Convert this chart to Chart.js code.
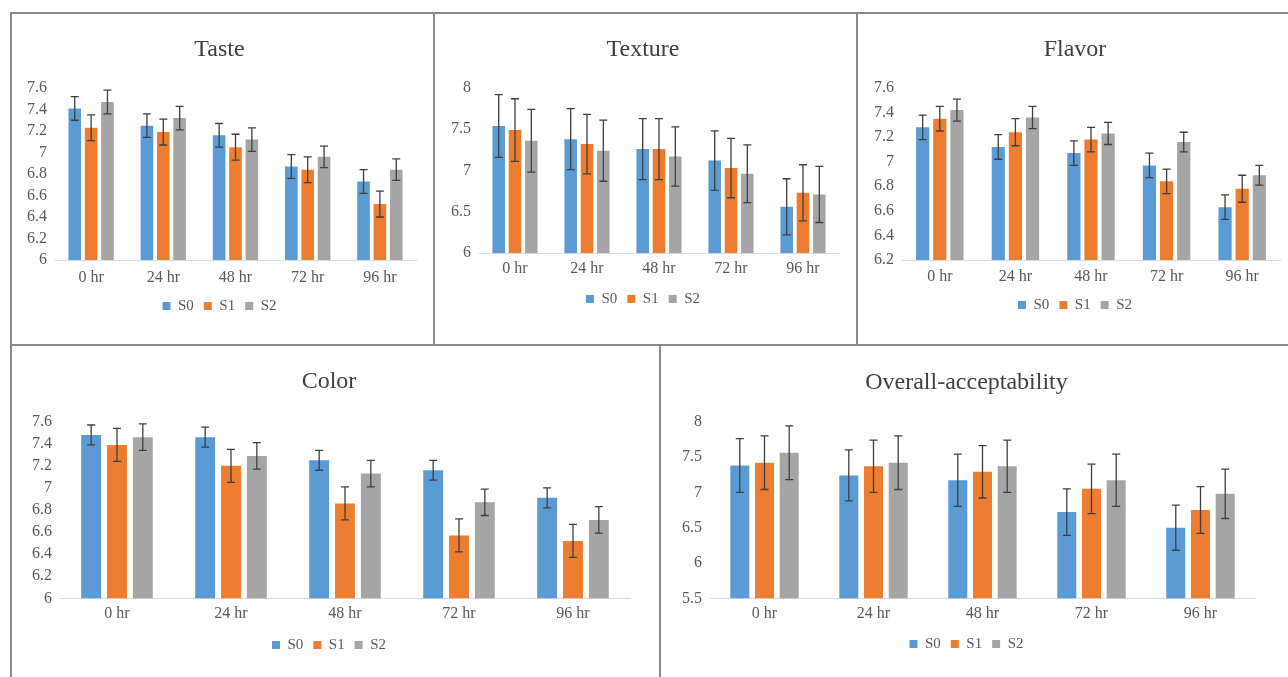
<!DOCTYPE html>
<html>
<head>
<meta charset="utf-8">
<script src="https://cdn.jsdelivr.net/npm/chart.js@4.4.1/dist/chart.umd.min.js"></script>
<style>
  body { margin: 0; background: #fff; width: 1288px; height: 677px; overflow: hidden; position: relative; }
  canvas { position: absolute; }
  .line { position: absolute; background: #8a8a8a; }
</style>
</head>
<body>
<div class="line" style="left:10px;top:12px;width:1278px;height:2px"></div>
<div class="line" style="left:10px;top:12px;width:2px;height:665px"></div>
<div class="line" style="left:433px;top:12px;width:2px;height:333px"></div>
<div class="line" style="left:856px;top:12px;width:2px;height:333px"></div>
<div class="line" style="left:10px;top:344px;width:1278px;height:2px"></div>
<div class="line" style="left:659px;top:345px;width:2px;height:332px"></div>

<canvas id="taste" width="421" height="330" style="left:12px;top:14px"></canvas>
<canvas id="texture" width="421" height="330" style="left:435px;top:14px"></canvas>
<canvas id="flavor" width="430" height="330" style="left:858px;top:14px"></canvas>
<canvas id="color" width="647" height="331" style="left:12px;top:346px"></canvas>
<canvas id="overall" width="627" height="331" style="left:661px;top:346px"></canvas>

<script>
const hours = ['0 hr', '24 hr', '48 hr', '72 hr', '96 hr'];
const seriesNames = ['S0', 'S1', 'S2'];

// means per series (S0, S1, S2) and their error bars
const tasteMeans = [[7.41, 7.25, 7.16, 6.87, 6.73], [7.23, 7.19, 7.05, 6.84, 6.52], [7.47, 7.32, 7.12, 6.96, 6.84]];
const tasteErrs = [[0.11, 0.11, 0.11, 0.11, 0.11], [0.12, 0.12, 0.12, 0.12, 0.12], [0.11, 0.11, 0.11, 0.10, 0.10]];
const textureMeans = [[7.54, 7.38, 7.26, 7.12, 6.56], [7.49, 7.32, 7.26, 7.03, 6.73], [7.36, 7.24, 7.17, 6.96, 6.71]];
const textureErrs = [[0.38, 0.37, 0.37, 0.36, 0.34], [0.38, 0.36, 0.37, 0.36, 0.34], [0.38, 0.37, 0.36, 0.35, 0.34]];
const flavorMeans = [[7.28, 7.12, 7.07, 6.97, 6.63], [7.35, 7.24, 7.18, 6.84, 6.78], [7.42, 7.36, 7.23, 7.16, 6.89]];
const flavorErrs = [[0.10, 0.10, 0.10, 0.10, 0.10], [0.10, 0.11, 0.10, 0.10, 0.11], [0.09, 0.09, 0.09, 0.08, 0.08]];
const colorMeans = [[7.48, 7.46, 7.25, 7.16, 6.91], [7.39, 7.20, 6.86, 6.57, 6.52], [7.46, 7.29, 7.13, 6.87, 6.71]];
const colorErrs = [[0.09, 0.09, 0.09, 0.09, 0.09], [0.15, 0.15, 0.15, 0.15, 0.15], [0.12, 0.12, 0.12, 0.12, 0.12]];
const overallMeans = [[7.38, 7.24, 7.17, 6.72, 6.50], [7.42, 7.37, 7.29, 7.05, 6.75], [7.56, 7.42, 7.37, 7.17, 6.98]];
const overallErrs = [[0.38, 0.36, 0.37, 0.33, 0.32], [0.38, 0.37, 0.37, 0.35, 0.33], [0.38, 0.38, 0.37, 0.37, 0.35]];

const tasteTicks = [6, 6.2, 6.4, 6.6, 6.8, 7, 7.2, 7.4, 7.6];
const textureTicks = [6, 6.5, 7, 7.5, 8];
const flavorTicks = [6.2, 6.4, 6.6, 6.8, 7, 7.2, 7.4, 7.6];
const colorTicks = [6, 6.2, 6.4, 6.6, 6.8, 7, 7.2, 7.4, 7.6];
const overallTicks = [5.5, 6, 6.5, 7, 7.5, 8];

const barColors = ['#5b9bd5', '#ed7d31', '#a5a5a5'];

Chart.defaults.font.family = "'Liberation Serif', 'Times New Roman', serif";
Chart.defaults.color = '#595959';

// draws the error bars from each dataset's "errors" list
const errorBars = {
  id: 'errorBars',
  afterDatasetsDraw(chart) {
    const ctx = chart.ctx;
    const yScale = chart.scales.y;
    ctx.save();
    ctx.strokeStyle = '#3f3f3f';
    ctx.lineWidth = 1.3;
    chart.data.datasets.forEach((ds, i) => {
      chart.getDatasetMeta(i).data.forEach((bar, j) => {
        const v = ds.data[j], e = ds.errors[j];
        const top = yScale.getPixelForValue(v + e);
        const bot = yScale.getPixelForValue(v - e);
        ctx.beginPath();
        ctx.moveTo(bar.x, top); ctx.lineTo(bar.x, bot);
        ctx.moveTo(bar.x - 4, top); ctx.lineTo(bar.x + 4, top);
        ctx.moveTo(bar.x - 4, bot); ctx.lineTo(bar.x + 4, bot);
        ctx.stroke();
      });
    });
    ctx.restore();
  }
};

// g: page geometry of the panel -> [left, top, plotLeft, plotRight, plotTop, plotBottom, titleY, labelY, legendY]
function makeChart(id, title, means, errs, ticks, g) {
  const canvas = document.getElementById(id);
  const W = canvas.width, H = canvas.height;
  const [left, top, pl, pr, pt, pb, ty, ly, gy] = g;
  const yw = 32;
  const titleSize = 24, half = titleSize * 1.2 / 2;
  const tc = ty - top, at = pt - top, ab = pb - top, lc = gy - top;
  const legendH = 35;

  new Chart(canvas, {
    type: 'bar',
    data: {
      labels: hours,
      datasets: seriesNames.map((name, i) => ({
        label: name,
        data: means[i],
        errors: errs[i],
        backgroundColor: barColors[i],
        borderWidth: 0,
        barPercentage: 0.77,
        categoryPercentage: 0.68
      }))
    },
    options: {
      responsive: false,
      animation: false,
      devicePixelRatio: 1,
      layout: {
        padding: {
          top: 0,
          left: pl - left - yw,
          right: left + W - pr,
          bottom: H - (lc - 17.5 + legendH)
        }
      },
      plugins: {
        title: {
          display: true,
          text: title,
          color: '#404040',
          font: { size: titleSize, weight: 'normal' },
          padding: { top: tc - half, bottom: at - tc - half }
        },
        legend: {
          position: 'bottom',
          labels: { boxWidth: 8, boxHeight: 8, padding: 10, font: { size: 15 } }
        },
        tooltip: { enabled: false }
      },
      scales: {
        x: {
          grid: { display: false, drawTicks: false },
          border: { display: true, color: '#d9d9d9', width: 1 },
          ticks: { font: { size: 16 }, padding: (ly - top) - ab - 9, maxRotation: 0, autoSkip: false },
          afterFit: s => { s.height = lc - ab - 17.5; }
        },
        y: {
          min: ticks[0],
          max: ticks[ticks.length - 1],
          grid: { display: false, drawTicks: false },
          border: { display: false },
          afterBuildTicks: s => { s.ticks = ticks.map(v => ({ value: v })); },
          afterFit: s => { s.width = yw; },
          ticks: {
            font: { size: 16 },
            padding: 8,
            autoSkip: false,
            callback: v => String(Number(v.toFixed(2)))
          }
        }
      }
    },
    plugins: [errorBars]
  });
}

makeChart('taste', 'Taste', tasteMeans, tasteErrs, tasteTicks, [12, 14, 55, 416, 88, 260, 50, 277, 306]);
makeChart('texture', 'Texture', textureMeans, textureErrs, textureTicks, [435, 14, 479, 839, 88, 253, 50, 268, 299]);
makeChart('flavor', 'Flavor', flavorMeans, flavorErrs, flavorTicks, [858, 14, 902, 1280, 88, 260, 50, 276, 305]);
makeChart('color', 'Color', colorMeans, colorErrs, colorTicks, [12, 346, 60, 630, 421.7, 598.3, 382, 613, 645]);
makeChart('overall', 'Overall-acceptability', overallMeans, overallErrs, overallTicks, [661, 346, 710, 1255, 421.7, 598.3, 383, 613, 644]);
</script>
</body>
</html>
